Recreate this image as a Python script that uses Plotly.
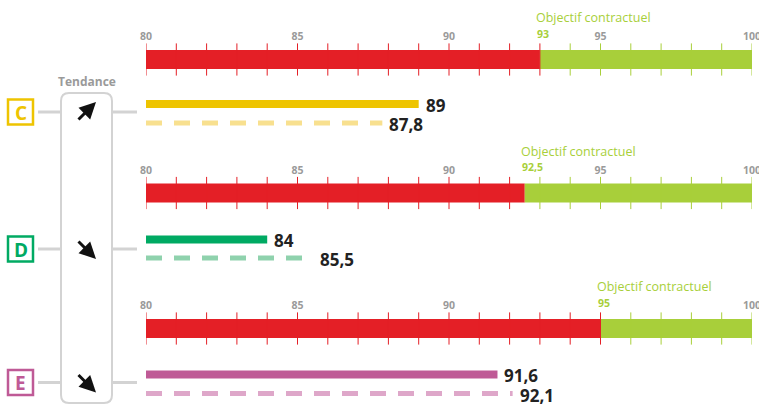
import plotly.graph_objects as go

# ---------------- data ----------------
indicators = ["C", "D", "E"]
current_values = [89, 84, 91.6]
previous_values = [87.8, 85.5, 92.1]
targets = [93, 92.5, 95]
target_labels = ["93", "92,5", "95"]
current_labels = ["89", "84", "91,6"]
previous_labels = ["87,8", "85,5", "92,1"]
axis_min, axis_max = 80, 100
tick_labels = [80, 85, 90, 95, 100]
minor_ticks = list(range(80, 101))
objective_text = "Objectif contractuel"
trend_title = "Tendance"

# ---------------- styles ----------------
W, H = 759, 404
RED = "#e41f26"
GREEN = "#a8cf3a"
solid_colors = ["#eec400", "#00aa63", "#bf5a96"]
dash_colors = ["#f8e08f", "#8fd2ad", "#dea7c9"]
GREY_LINE = "#d3d3d3"
GREY_TXT = "#9a9a9a"
FONT = "Open Sans"

band_y = [59.5, 193, 328.5]      # band centres (px from top)
solid_y = [104, 239.5, 374.5]
dash_y = [123, 258, 393.5]
badge_y = [112, 249, 382.5]
X0_PX, X1_PX = 146, 752

fig = go.Figure()
axis_names = ["x", "x2", "x3"]
layout_axes = {}
annotations = []
shapes = []

def px(v):
    return v / W

for i, name in enumerate(indicators):
    ax = axis_names[i]
    t = targets[i]
    fig.add_trace(go.Bar(x=[t - axis_min], base=[axis_min], y=[band_y[i]], width=19,
                         orientation="h", marker=dict(color=RED, line=dict(width=0)),
                         xaxis=ax, yaxis="y", hoverinfo="skip"))
    fig.add_trace(go.Bar(x=[axis_max - t], base=[t], y=[band_y[i]], width=19,
                         orientation="h", marker=dict(color=GREEN, line=dict(width=0)),
                         xaxis=ax, yaxis="y", hoverinfo="skip"))
    fig.add_trace(go.Scatter(x=minor_ticks, y=[band_y[i]] * len(minor_ticks), mode="markers",
                             marker=dict(symbol="line-ns", size=23,
                                         line=dict(width=1, color=[RED if v <= t else GREEN for v in minor_ticks])),
                             xaxis=ax, yaxis="y", hoverinfo="skip"))
    fig.add_trace(go.Bar(x=[current_values[i] - axis_min], base=[axis_min], y=[solid_y[i]], width=8,
                         orientation="h", marker=dict(color=solid_colors[i], line=dict(width=0)),
                         xaxis=ax, yaxis="y", hoverinfo="skip"))
    fig.add_trace(go.Scatter(x=[axis_min, previous_values[i]], y=[dash_y[i]] * 2, mode="lines",
                             line=dict(color=dash_colors[i], width=5, dash="16px,12px"),
                             xaxis=ax, yaxis="y", hoverinfo="skip"))

    shown_ticks = [v for v in tick_labels if abs(v - t) > 1]
    layout_axes["xaxis" + ("" if i == 0 else str(i + 1))] = dict(
        range=[axis_min, axis_max], domain=[X0_PX / W, X1_PX / W],
        anchor="free", position=1 - (band_y[i] - 17) / H, side="top",
        overlaying=None if i == 0 else "x", automargin=False, ticklabeloverflow="allow",
        tickvals=shown_ticks, ticks="", showline=False, showgrid=False, zeroline=False,
        tickfont=dict(family=FONT, size=10.5, color=GREY_TXT, weight="bold"),
        fixedrange=True,
    )

    annotations.append(dict(x=t, y=band_y[i] - 42, xref=ax, yref="y", text=objective_text,
                            showarrow=False, xanchor="left", yanchor="middle", xshift=-6,
                            font=dict(family=FONT, size=12.5, color=GREEN)))
    annotations.append(dict(x=t, y=band_y[i] - 26, xref=ax, yref="y", text="<b>%s</b>" % target_labels[i],
                            showarrow=False, xanchor="left", yanchor="middle", xshift=-5,
                            font=dict(family=FONT, size=10.5, color=GREEN)))
    annotations.append(dict(x=current_values[i], y=solid_y[i] + 1, xref=ax, yref="y",
                            text="<b>%s</b>" % current_labels[i], showarrow=False,
                            xanchor="left", yanchor="middle", xshift=5,
                            font=dict(family=FONT, size=17, color="#222222")))
    annotations.append(dict(x=previous_values[i], y=dash_y[i] + 1.5, xref=ax, yref="y",
                            text="<b>%s</b>" % previous_labels[i], showarrow=False,
                            xanchor="left", yanchor="middle", xshift=5,
                            font=dict(family=FONT, size=17, color="#222222")))

    shapes.append(dict(type="rect", xref="paper", yref="y", x0=px(8), x1=px(33),
                       y0=badge_y[i] - 12.5, y1=badge_y[i] + 12.5,
                       line=dict(color=solid_colors[i], width=2.5), fillcolor="white", layer="above"))
    annotations.append(dict(x=px(20.5), y=badge_y[i] + 0.5, xref="paper", yref="y",
                            text="<b>%s</b>" % name, showarrow=False, xanchor="center", yanchor="middle",
                            font=dict(family=FONT, size=19, color=solid_colors[i])))
    shapes.append(dict(type="line", xref="paper", yref="y", x0=px(38), x1=px(61),
                       y0=badge_y[i], y1=badge_y[i], line=dict(color=GREY_LINE, width=3)))
    shapes.append(dict(type="line", xref="paper", yref="y", x0=px(112), x1=px(137),
                       y0=badge_y[i], y1=badge_y[i], line=dict(color=GREY_LINE, width=3)))
    up = current_values[i] > previous_values[i]
    hx, hy = 96, (badge_y[i] - 10 if up else badge_y[i] + 10)
    annotations.append(dict(x=px(hx), y=hy, xref="paper", yref="y", text="",
                            showarrow=True, ax=-19, ay=(19 if up else -19),
                            arrowhead=2, arrowsize=1.1, arrowwidth=3, arrowcolor="#111111"))

xl, xr, yt, yb, r = 61, 112, 93, 403, 8
path = (f"M {px(xl)},{yt + r} Q {px(xl)},{yt} {px(xl + r)},{yt} L {px(xr - r)},{yt} "
        f"Q {px(xr)},{yt} {px(xr)},{yt + r} L {px(xr)},{yb - r} Q {px(xr)},{yb} {px(xr - r)},{yb} "
        f"L {px(xl + r)},{yb} Q {px(xl)},{yb} {px(xl)},{yb - r} Z")
shapes.append(dict(type="path", xref="paper", yref="y", path=path,
                   line=dict(color=GREY_LINE, width=2), fillcolor="rgba(0,0,0,0)"))
annotations.append(dict(x=px(86.5), y=81, xref="paper", yref="y", text="<b>%s</b>" % trend_title,
                        showarrow=False, xanchor="center", yanchor="middle",
                        font=dict(family=FONT, size=12, color=GREY_TXT)))

fig.update_layout(
    width=W, height=H, margin=dict(l=0, r=0, t=0, b=0, pad=0, autoexpand=False),
    paper_bgcolor="white", plot_bgcolor="white", showlegend=False, barmode="overlay",
    yaxis=dict(range=[H, 0], domain=[0, 1], visible=False, fixedrange=True, automargin=False),
    annotations=annotations, shapes=shapes,
    **layout_axes,
)

fig.write_html("out.html", config={"displayModeBar": False},
               post_script="document.body.style.margin='0';document.body.style.padding='0';document.body.style.overflow='hidden';")
